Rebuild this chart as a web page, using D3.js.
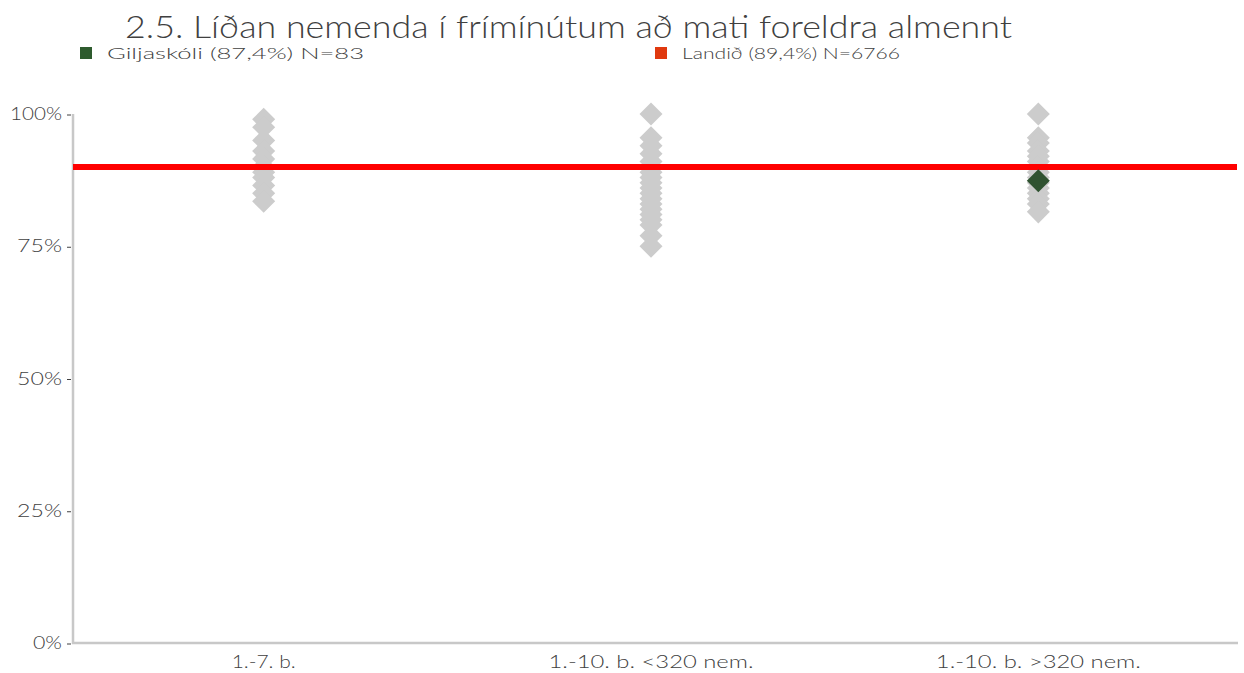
<!DOCTYPE html>
<html><head><meta charset="utf-8">
<script src="https://cdn.jsdelivr.net/npm/d3@7"></script>
<style>body{margin:0;background:#fff}svg{display:block}text{font-family:Lato,"Open Sans",sans-serif;fill:#404040;font-weight:300}</style>
</head><body><svg id="c" width="1244" height="673"></svg>
<script>
const title = "2.5. Líðan nemenda í frímínútum að mati foreldra almennt";
const categories = ["1.-7. b.", "1.-10. b. <320 nem.", "1.-10. b. >320 nem."];
const otherSchools = [
  [99, 97.5, 95, 93, 91.5, 90, 89, 88, 86.5, 85, 83.5],
  [100, 95.5, 94, 92.5, 91, 90, 89, 88, 87, 86, 85, 84, 83, 82, 81, 80, 79, 77, 75],
  [100, 95.5, 94.5, 93, 92, 91, 90, 89, 88, 87, 86, 85, 84, 83, 81.5]
];
const schoolCategory = "1.-10. b. >320 nem.";
const schoolValue = 87.4;
const nationalLine = 90.0;
const legendLabels = ["Giljaskóli (87,4%) N=83", "Landið (89,4%) N=6766"];
const yTicks = [0, 25, 50, 75, 100];
const yTickLabels = ["0%", "25%", "50%", "75%", "100%"];

const svg = d3.select("#c");
const x = d3.scaleBand().domain(categories).range([70, 1232]);
const y = d3.scaleLinear().domain([0, 100]).range([643, 114]);

// title
svg.append("text").attr("x", 125).attr("y", 38).attr("font-size", 31)
  .attr("textLength", 887).attr("lengthAdjust", "spacingAndGlyphs").text(title);

// legend
const legColors = ["#2e5b2e", "#e0390f"];
const legX = [80, 655];
const legW = [257, 218];
legendLabels.forEach((l, i) => {
  svg.append("rect").attr("x", legX[i]).attr("y", 47).attr("width", 12).attr("height", 12).attr("fill", legColors[i]);
  svg.append("text").attr("x", legX[i] + 27).attr("y", 59).attr("font-size", 16)
    .attr("textLength", legW[i]).attr("lengthAdjust", "spacingAndGlyphs").text(l);
});

// axes
svg.append("line").attr("x1", 73).attr("x2", 73).attr("y1", y(100)).attr("y2", y(0) + 1)
  .attr("stroke", "#c8c8c8").attr("stroke-width", 2.5);
svg.append("line").attr("x1", 72).attr("x2", 1238).attr("y1", y(0)).attr("y2", y(0))
  .attr("stroke", "#c8c8c8").attr("stroke-width", 2.5);

const yLabW = [29, 45, 45, 45, 52];
yTicks.forEach((t, i) => {
  svg.append("text").attr("x", 62).attr("y", y(t) + 6).attr("font-size", 17.5)
    .attr("text-anchor", "end").attr("textLength", yLabW[i]).attr("lengthAdjust", "spacingAndGlyphs")
    .text(yTickLabels[i]);
  svg.append("line").attr("x1", 67).attr("x2", 71).attr("y1", y(t) + 1).attr("y2", y(t) + 1)
    .attr("stroke", "#404040").attr("stroke-width", 1);
});

const xLabW = [64, 205, 205];
categories.forEach((c, i) => {
  svg.append("text").attr("x", x(c) + x.bandwidth() / 2).attr("y", 668).attr("font-size", 17.5)
    .attr("text-anchor", "middle").attr("textLength", xLabW[i]).attr("lengthAdjust", "spacingAndGlyphs")
    .text(c);
});

// diamonds
const diamond = d3.symbol().type(d3.symbolSquare).size(265);
categories.forEach((c, i) => {
  svg.append("g").selectAll("path").data(otherSchools[i]).join("path")
    .attr("d", diamond)
    .attr("transform", d => `translate(${x(c) + x.bandwidth() / 2},${y(d)}) rotate(45)`)
    .attr("fill", "#cccccc");
});

// national line
svg.append("line").attr("x1", 73).attr("x2", 1237).attr("y1", y(nationalLine)).attr("y2", y(nationalLine))
  .attr("stroke", "#ff0000").attr("stroke-width", 6);

// school marker
svg.append("path").attr("d", diamond)
  .attr("transform", `translate(${x(schoolCategory) + x.bandwidth() / 2},${y(schoolValue)}) rotate(45)`)
  .attr("fill", "#2f5230");
</script></body></html>
